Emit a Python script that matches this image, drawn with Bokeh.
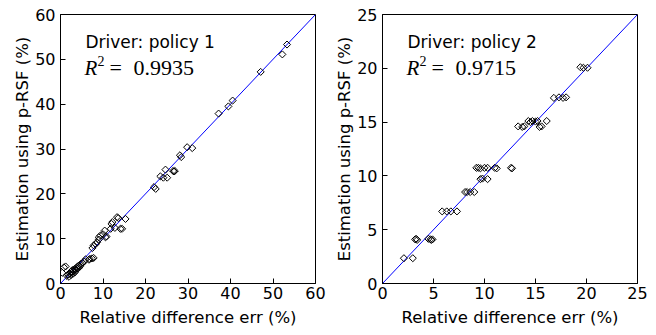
import math
from bokeh.plotting import figure
from bokeh.layouts import row
from bokeh.models import Label, FixedTicker, Range1d
from bokeh.embed import file_html
from bokeh.resources import INLINE

# ---- data: policy 1 (left panel) ----
p1_err = [0.4, 0.8, 1.2, 1.5, 1.8, 2.0, 2.2, 2.4, 2.5, 2.7, 2.8, 3.0, 3.1, 3.3, 3.4,
          3.6, 3.7, 3.9, 4.0, 4.2, 4.4, 4.6, 4.8, 5.2, 5.6, 5.9, 6.7, 6.9, 7.4, 7.8,
          7.5, 7.8, 8.3, 8.6, 9.0, 9.0, 9.4, 10.0, 10.4, 10.6, 10.8, 11.8, 12.0, 12.2,
          12.8, 13.3, 13.6, 14.1, 14.5, 15.3, 22.0, 22.4, 23.5, 24.2, 24.7, 25.1, 26.5,
          26.7, 26.9, 28.1, 28.4, 29.8, 31.0, 37.2, 39.5, 40.5, 47.1, 52.2, 53.3]
p1_est = [2.4, 3.6, 3.8, 1.7, 2.0, 1.5, 2.2, 2.6, 1.9, 2.4, 3.0, 2.2, 2.8, 3.2, 2.5,
          3.0, 3.5, 3.3, 3.8, 3.4, 4.0, 3.8, 4.4, 4.6, 4.9, 5.4, 5.3, 5.5, 5.6, 5.7,
          7.9, 8.5, 8.8, 9.2, 9.8, 10.3, 10.7, 11.0, 11.8, 10.3, 10.5, 12.2, 13.3, 13.7,
          12.4, 14.8, 14.6, 12.2, 12.2, 14.4, 21.5, 21.1, 23.9, 23.6, 25.4, 23.6, 25.1,
          25.0, 25.1, 28.6, 28.2, 30.4, 30.2, 37.9, 39.5, 40.8, 47.2, 51.1, 53.3]

# ---- data: policy 2 (right panel) ----
p2_err = [2.1, 2.97, 3.2, 3.3, 3.4, 4.5, 4.7, 4.8, 4.9, 5.85, 6.3, 6.7, 7.3, 8.1, 8.3,
          8.6, 9.0, 9.6, 9.8, 10.3, 9.2, 9.4, 9.6, 10.0, 10.3, 11.0, 11.2, 12.6, 12.7,
          13.3, 13.7, 13.9, 14.3, 14.5, 14.7, 15.0, 15.2, 15.4, 15.6, 16.1, 19.4, 19.7,
          20.1, 16.8, 17.3, 17.7, 18.0]
p2_est = [2.35, 2.35, 4.1, 4.15, 4.05, 4.15, 4.1, 4.05, 4.1, 6.7, 6.7, 6.7, 6.7, 8.5, 8.5,
          8.5, 8.5, 9.7, 9.75, 9.7, 10.75, 10.75, 10.7, 10.75, 10.75, 10.75, 10.7, 10.75, 10.7,
          14.6, 14.55, 14.6, 15.1, 15.0, 15.1, 15.05, 15.1, 14.55, 14.6, 15.1, 20.1, 20.05,
          20.05, 17.25, 17.3, 17.25, 17.3]

p1_ticks = [0, 10, 20, 30, 40, 50, 60]
p2_ticks = [0, 5, 10, 15, 20, 25]
p1_diag = [0, 60]
p2_diag = [0, 25]

titles = ["Driver: policy 1", "Driver: policy 2"]
r2_values = ["0.9935", "0.9715"]
x_label = "Relative difference err (%)"
y_label = "Estimation using p-RSF (%)"

SANS = "DejaVu Sans"
SERIF = "Liberation Serif"


def make_panel(xs, ys, ticks, diag, title, r2, left_border, right_border):
    p = figure(frame_width=255, frame_height=269, output_backend="svg",
               toolbar_location=None,
               x_range=Range1d(ticks[0], ticks[-1]), y_range=Range1d(ticks[0], ticks[-1]),
               min_border_left=left_border, min_border_right=right_border,
               min_border_top=14, min_border_bottom=51)
    p.background_fill_color = "white"
    p.border_fill_color = "white"
    p.outline_line_color = "black"
    p.outline_line_width = 1
    p.xgrid.visible = False
    p.ygrid.visible = False

    for ax in (p.xaxis[0], p.yaxis[0]):
        ax.ticker = FixedTicker(ticks=ticks)
        ax.major_tick_in = 5
        ax.major_tick_out = 0
        ax.minor_tick_line_color = None
        ax.axis_line_color = "black"
        ax.major_tick_line_color = "black"
        ax.major_label_text_font = SANS
        ax.major_label_text_font_size = "16px"
        ax.major_label_text_color = "black"
        ax.axis_label_text_font = SANS
        ax.axis_label_text_font_size = "16.5px"
        ax.axis_label_text_font_style = "normal"
        ax.axis_label_text_color = "black"
    p.yaxis[0].major_label_standoff = 5
    p.xaxis[0].major_label_standoff = 3

    p.yaxis[0].axis_label = y_label
    p.yaxis[0].axis_label_standoff = 0
    p.xaxis[0].axis_label = x_label
    p.xaxis[0].axis_label_standoff = 6

    p.line(diag, diag, line_color="#0000ff", line_width=1)
    p.scatter(xs, ys, marker="square", angle=math.pi / 4, size=5,
              fill_color=None, line_color="black", line_width=1)

    def lab(x, y, text, font, size, style="normal"):
        p.add_layout(Label(x=x, y=y, x_units="screen", y_units="screen", text=text,
                           text_font=font, text_font_size=size, text_font_style=style,
                           text_color="black", text_baseline="alphabetic",
                           text_align="left"))

    # in-plot annotation
    lab(25, 242, title, SANS, "17px")
    lab(24, 216, "R", SERIF, "21px", "italic")
    lab(37, 223, "2", SERIF, "14px")
    lab(49, 216, "=", SERIF, "22px")
    lab(73, 216, r2, SERIF, "22px")
    return p


p1 = make_panel(p1_err, p1_est, p1_ticks, p1_diag, titles[0], r2_values[0], 60, 15)
p2 = make_panel(p2_err, p2_est, p2_ticks, p2_diag, titles[1], r2_values[1], 52, 18)

layout = row(p1, p2, spacing=0)
open("out.html", "w").write(file_html(layout, INLINE))
